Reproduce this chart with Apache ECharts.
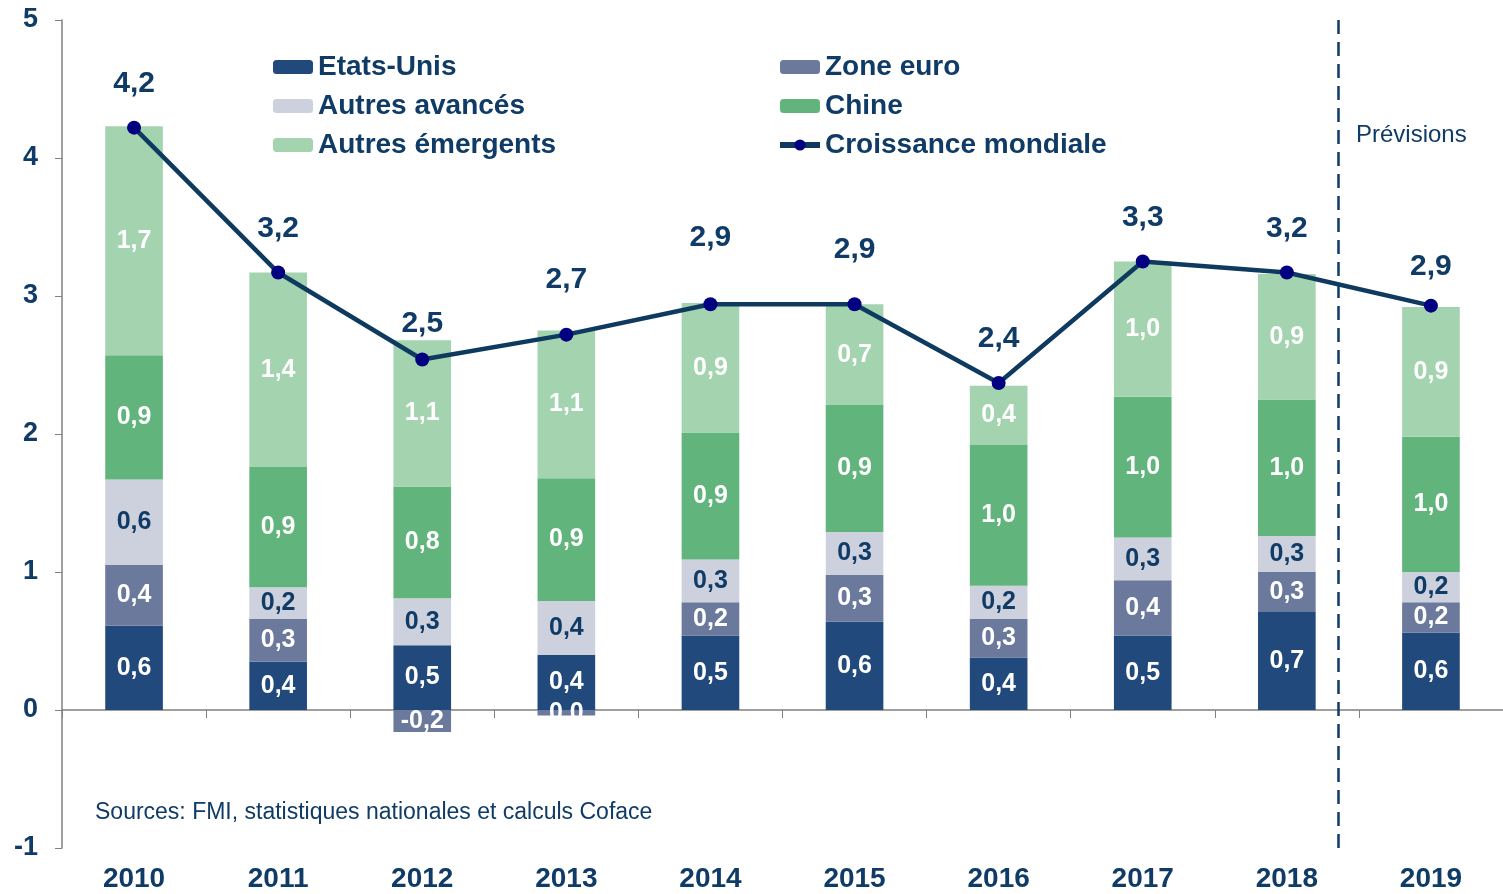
<!DOCTYPE html>
<html lang="fr">
<head>
    <meta charset="utf-8">
    <title>Croissance mondiale</title>
    <script src="https://cdn.jsdelivr.net/npm/echarts@6/dist/echarts.min.js"></script>
    <style>
        html, body { margin: 0; padding: 0; background: #fff; }
        #main { width: 1503px; height: 894px; }
    </style>
</head>
<body>
<div id="main"></div>
<script>
    // données
    var years = ['2010', '2011', '2012', '2013', '2014', '2015', '2016', '2017', '2018', '2019'];
    var etatsUnis = [0.61, 0.35, 0.47, 0.40, 0.54, 0.64, 0.38, 0.54, 0.71, 0.56];
    var zoneEuro = [0.44, 0.31, -0.16, -0.04, 0.24, 0.34, 0.28, 0.40, 0.29, 0.22];
    var autresAvances = [0.62, 0.23, 0.34, 0.39, 0.31, 0.31, 0.24, 0.31, 0.26, 0.22];
    var chine = [0.90, 0.87, 0.81, 0.89, 0.92, 0.92, 1.02, 1.02, 0.99, 0.98];
    var autresEmergents = [1.66, 1.41, 1.06, 1.07, 0.94, 0.73, 0.43, 0.98, 0.91, 0.94];
    var croissance = [4.22, 3.17, 2.54, 2.72, 2.94, 2.94, 2.37, 3.25, 3.17, 2.93];
    var yTicks = { min: -1, max: 5, step: 1 };
    var forecastSplit = 8.36; // position de la ligne "Prévisions" (en rang de catégorie)

    // décalage des étiquettes de la courbe (px), comme sur l'original
    var labelLift = [0, 0, -8, 11, 23, 11, 0, 0, 0, -5];

    var navy = '#0f3b66';
    var font = "'Liberation Sans', Arial, sans-serif";

    function fmt(v) {
        return (Math.round(v * 10) / 10).toFixed(1).replace('.', ',');
    }

    function barSerie(name, data, color, labelColor) {
        return {
            name: name,
            type: 'bar',
            stack: 'total',
            barWidth: '40%',
            data: data,
            itemStyle: { color: color },
            label: {
                show: true,
                position: 'inside',
                color: labelColor,
                fontFamily: font,
                fontWeight: 'bold',
                fontSize: 25,
                formatter: function (p) { return fmt(p.value); }
            }
        };
    }

    var lineData = croissance.map(function (v, i) {
        return { value: v, label: { distance: 22 + labelLift[i] } };
    });

    var myChart = echarts.init(document.getElementById('main'));

    var legendText = { color: navy, fontFamily: font, fontWeight: 'bold', fontSize: 28 };

    var option = {
        animation: false,
        grid: { left: 62, right: 0, top: 20, bottom: 46 },
        legend: [
            {
                orient: 'vertical', left: 268, top: 48, itemGap: 11,
                itemWidth: 40, itemHeight: 14, textStyle: legendText,
                data: ['Etats-Unis', 'Autres avancés', 'Autres émergents']
            },
            {
                orient: 'vertical', left: 772, top: 48, itemGap: 11,
                itemWidth: 40, itemHeight: 14, textStyle: legendText,
                lineStyle: { width: 6 },
                data: ['Zone euro', 'Chine', 'Croissance mondiale']
            }
        ],
        xAxis: [
            {
                type: 'category',
                data: years,
                axisLine: { onZero: true, lineStyle: { color: '#808080', width: 1.5 } },
                axisTick: { show: true, length: 8, lineStyle: { color: '#808080' } },
                axisLabel: { show: false }
            },
            {
                type: 'category',
                data: years,
                position: 'bottom',
                axisLine: { show: false, onZero: false },
                axisTick: { show: false },
                axisLabel: { color: navy, fontFamily: font, fontWeight: 'bold', fontSize: 28, margin: 17 }
            },
            {
                type: 'value',
                min: -0.5,
                max: years.length - 0.5,
                show: false
            }
        ],
        yAxis: {
            type: 'value',
            min: yTicks.min,
            max: yTicks.max,
            interval: yTicks.step,
            splitLine: { show: false },
            axisLine: { show: true, onZero: false, lineStyle: { color: '#808080', width: 1.5 } },
            axisTick: { show: true, length: 7, lineStyle: { color: '#808080' } },
            axisLabel: { color: navy, fontFamily: font, fontWeight: 'bold', fontSize: 27, margin: 24 }
        },
        series: [
            barSerie('Etats-Unis', etatsUnis, '#21497b', '#ffffff'),
            barSerie('Zone euro', zoneEuro, '#6b7a9c', '#ffffff'),
            barSerie('Autres avancés', autresAvances, '#cdd0dd', navy),
            barSerie('Chine', chine, '#62b47d', '#ffffff'),
            barSerie('Autres émergents', autresEmergents, '#a4d4af', '#ffffff'),
            {
                name: 'Croissance mondiale',
                type: 'line',
                data: lineData,
                z: 5,
                symbol: 'circle',
                symbolSize: 14,
                itemStyle: { color: '#000080' },
                lineStyle: { color: '#0e3a5f', width: 4.5 },
                label: {
                    show: true,
                    position: 'top',
                    color: navy,
                    fontFamily: font,
                    fontWeight: 'bold',
                    fontSize: 30,
                    formatter: function (p) { return fmt(p.value); }
                }
            },
            {
                name: 'prev',
                type: 'scatter',
                xAxisIndex: 2,
                data: [],
                markLine: {
                    silent: true,
                    symbol: 'none',
                    label: { show: false },
                    lineStyle: { color: '#0f3b66', type: [14, 8], width: 2.5 },
                    data: [{ xAxis: forecastSplit }]
                }
            }
        ],
        graphic: [
            {
                type: 'text', left: 1356, top: 123,
                style: { text: 'Prévisions', fill: navy, font: '24px ' + font }
            },
            {
                type: 'text', left: 95, top: 801,
                style: { text: 'Sources: FMI, statistiques nationales et calculs Coface', fill: navy, font: '23px ' + font }
            }
        ]
    };

    myChart.setOption(option);
    window.onresize = function () {
        myChart.resize();
    };
</script>
</body>
</html>
